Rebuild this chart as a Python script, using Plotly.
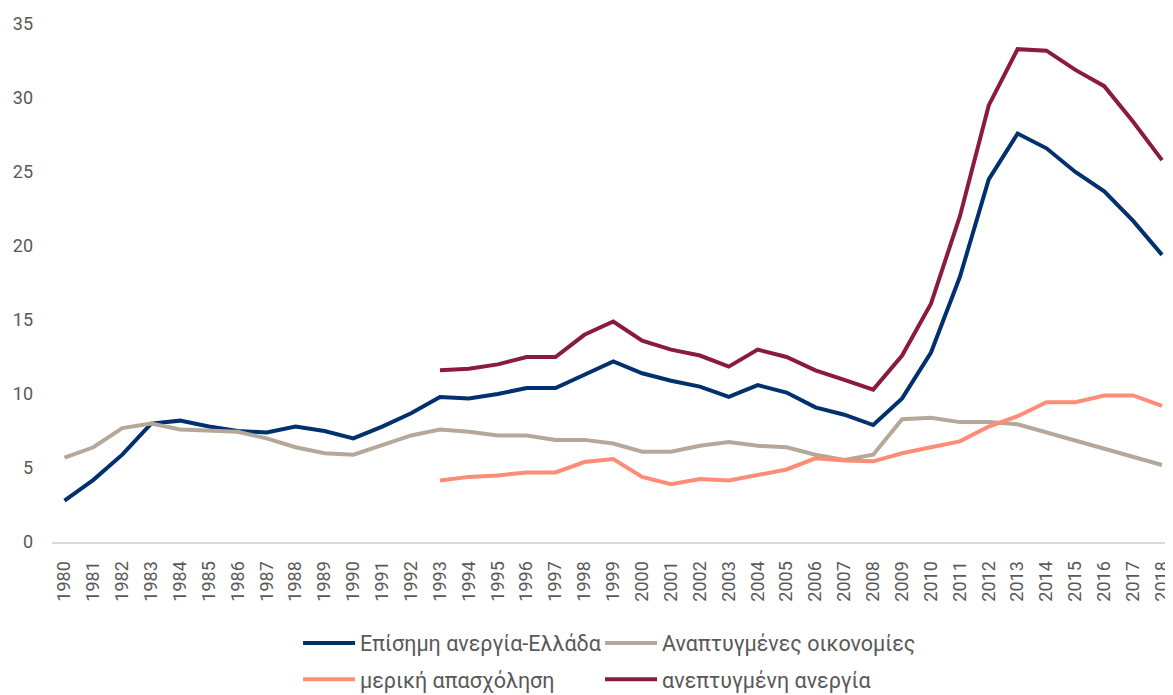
import plotly.graph_objects as go

years = list(range(1980, 2019))

greece_official = [2.8, 4.2, 5.9, 8.0, 8.2, 7.8, 7.5, 7.4, 7.8, 7.5, 7.0, 7.8, 8.7, 9.8,
                   9.7, 10.0, 10.4, 10.4, 11.3, 12.2, 11.4, 10.9, 10.5, 9.8, 10.6, 10.1, 9.1, 8.6,
                   7.9, 9.7, 12.8, 17.9, 24.5, 27.6, 26.6, 25.0, 23.7, 21.7, 19.4]

developed = [5.7, 6.4, 7.7, 8.0, 7.6, 7.5, 7.45, 7.0, 6.4, 6.0, 5.9, 6.55, 7.2, 7.6,
             7.45, 7.2, 7.2, 6.9, 6.9, 6.65, 6.1, 6.1, 6.5, 6.75, 6.5, 6.4, 5.9, 5.55,
             5.9, 8.3, 8.4, 8.1, 8.1, 7.95, 7.4, 6.8, 6.25, 5.75, 5.2]

part_time = [None] * 13 + [4.15, 4.4, 4.5, 4.7, 4.7, 5.4, 5.6, 4.4, 3.9, 4.25, 4.15, 4.5, 4.9,
                           5.65, 5.5, 5.45, 6.0, 6.4, 6.8, 7.8, 8.5, 9.45, 9.45, 9.9, 9.9, 9.2]

extended = [None] * 13 + [11.6, 11.7, 12.0, 12.5, 12.5, 14.0, 14.9, 13.6, 13.0, 12.6, 11.85, 13.0, 12.5,
                          11.6, 10.95, 10.3, 12.6, 16.1, 22.0, 29.5, 33.3, 33.2, 31.9, 30.8, 28.4, 25.8]

names = ["Επίσημη ανεργία-Ελλάδα", "Αναπτυγμένες οικονομίες",
         "μερική απασχόληση", "ανεπτυγμένη ανεργία"]
colors = ["#00306E", "#B5A898", "#FF8C76", "#8A1A3F"]
series = [greece_official, developed, part_time, extended]
legends = ["legend", "legend2", "legend3", "legend4"]

FONT = "Roboto"
TXT = "#595959"

fig = go.Figure()
for name, col, ys, lg in zip(names, colors, series, legends):
    fig.add_trace(go.Scatter(
        x=years, y=ys, name=name, mode="lines",
        line=dict(color=col, width=4),
        legend=lg,
    ))

legend_common = dict(
    orientation="h",
    xanchor="left",
    yanchor="middle",
    font=dict(family=FONT, size=21.5, color=TXT),
    itemwidth=52,
    bgcolor="rgba(0,0,0,0)",
    borderwidth=0,
)

col_x = [0.2195, 0.4889]
row_y = [-0.195, -0.265]

# page body adds an 8px offset, so the figure is 8px smaller on each axis
fig.update_layout(
    width=1165, height=687,
    margin=dict(l=44, r=0, t=16, b=153, autoexpand=False),
    plot_bgcolor="white", paper_bgcolor="white",
    font=dict(family=FONT, color=TXT),
    showlegend=True,
    legend=dict(**legend_common, x=col_x[0], y=row_y[0]),
    legend2=dict(**legend_common, x=col_x[1], y=row_y[0]),
    legend3=dict(**legend_common, x=col_x[0], y=row_y[1]),
    legend4=dict(**legend_common, x=col_x[1], y=row_y[1]),
    xaxis=dict(
        range=[1979.567, 2018.38],
        tickmode="array", tickvals=years, ticktext=[str(y) for y in years],
        tickangle=-90,
        tickfont=dict(family=FONT, size=18, color=TXT),
        showgrid=False, zeroline=False,
        showline=True, linecolor="#D9D9D9", linewidth=2,
        ticks="", ticklabelstandoff=10,
    ),
    yaxis=dict(
        range=[0, 35], dtick=5,
        tickfont=dict(family=FONT, size=18, color=TXT),
        showgrid=False, zeroline=False, showline=False,
        ticks="", ticklabelstandoff=18,
    ),
)

fig.write_html("out.html")
